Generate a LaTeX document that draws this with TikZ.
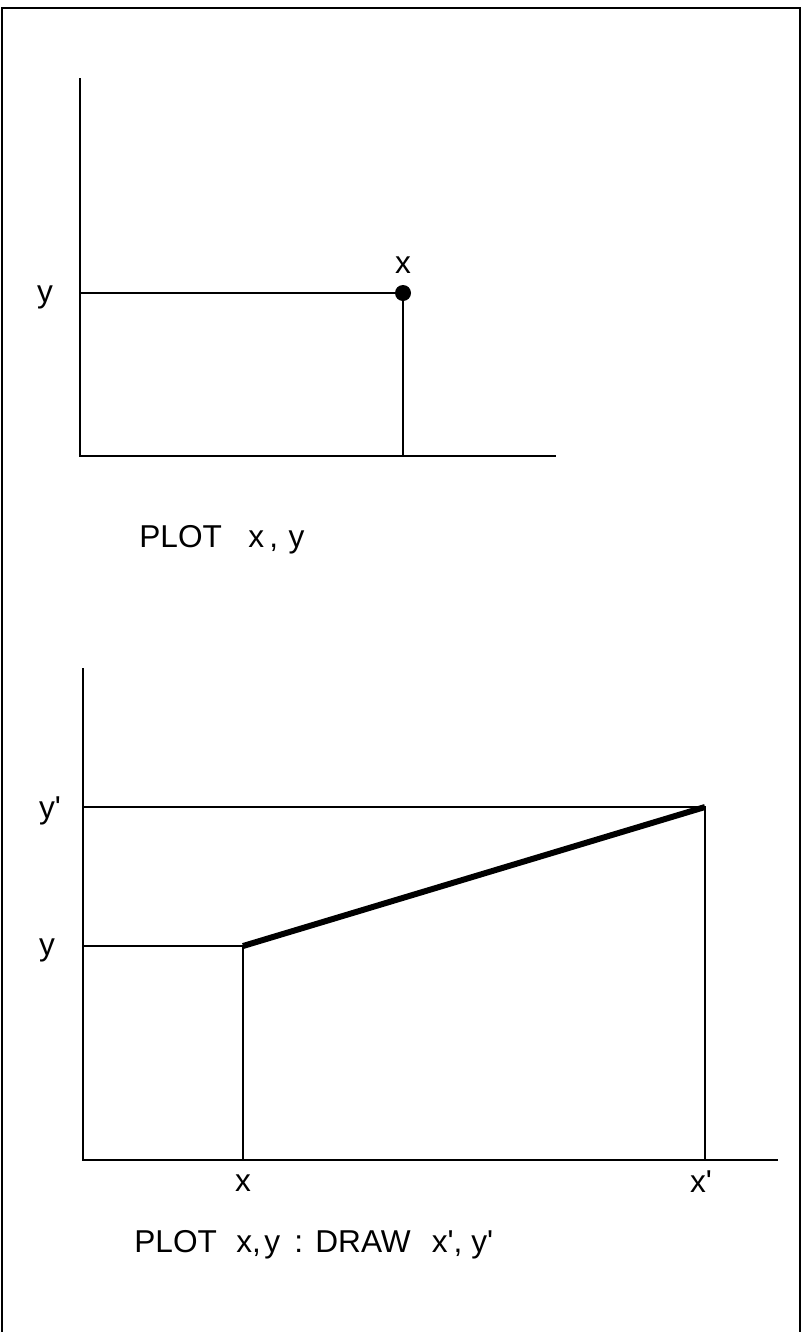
\documentclass[tikz,border=0pt]{standalone}
\usepackage{fontspec}
\setmainfont{Liberation Sans}
\usetikzlibrary{positioning, calc}

\newcommand{\tick}{\textquotesingle}

\begin{document}
\begin{tikzpicture}[
    x=0.02cm, y=-0.02cm, % one unit is one pixel of the scan
    every node/.style={font=\fontsize{18}{21}\selectfont, inner sep=0pt},
    axis/.style={line width=1.3pt},
    guide/.style={line width=1.1pt},
    stroke/.style={line width=3.4pt}
]
    \useasboundingbox (0,0) rectangle (802,1332);
    \draw [line width=1.2pt] (2,1332) -- (2,8) -- (800,8) -- (800,1332);

    % Place the points of the first plot
    \coordinate (a_o) at (80,456);
    \coordinate (a_top) at (80,78);
    \coordinate (a_end) at (556,456);
    \coordinate (a_y) at (80,293);
    \coordinate (a_p) at (403,293);
    \coordinate (a_x) at (403,456);

    % Draw the first plot
    \draw [axis] (a_top) -- (a_o) -- (a_end);
    \draw [guide] (a_y) -- (a_p) -- (a_x);
    \fill (a_p) circle (8);
    \node (lab_ax) at ($(a_p)+(0,-28)$) {x};
    \node (lab_ay) at ($(a_y)+(-35,4)$) {y};
    \node (cap_a) [anchor=base west] at (139,547) {PLOT\hspace{15pt}x\hspace{3pt},\hspace{6pt}y};

    % Place the points of the second plot
    \coordinate (b_o) at (83,1160);
    \coordinate (b_top) at (83,668);
    \coordinate (b_end) at (778,1160);
    \coordinate (b_y1) at (83,807);
    \coordinate (b_p1) at (705,807);
    \coordinate (b_x1) at (705,1160);
    \coordinate (b_y) at (83,946);
    \coordinate (b_p) at (243,946);
    \coordinate (b_x) at (243,1160);

    % Draw the second plot
    \draw [axis] (b_top) -- (b_o) -- (b_end);
    \draw [guide] (b_y1) -- (b_p1) -- (b_x1);
    \draw [guide] (b_y) -- (b_p) -- (b_x);
    \draw [stroke] (b_p) -- (b_p1);
    \node (lab_by1) at ($(b_y1)+(-33,4)$) {y\tick};
    \node (lab_by) at ($(b_y)+(-36,4)$) {y};
    \node (lab_bx) at ($(b_x)+(0,23)$) {x};
    \node (lab_bx1) at ($(b_x1)+(-4,22)$) {x\tick};
    \node (cap_b) [anchor=base west] at (134,1252)
        {PLOT\hspace{11pt}x,\hspace{2pt}y\hspace{8pt}:\hspace{7pt}DRAW\hspace{12pt}x\tick,\hspace{5pt}y\tick};
\end{tikzpicture}
\end{document}
